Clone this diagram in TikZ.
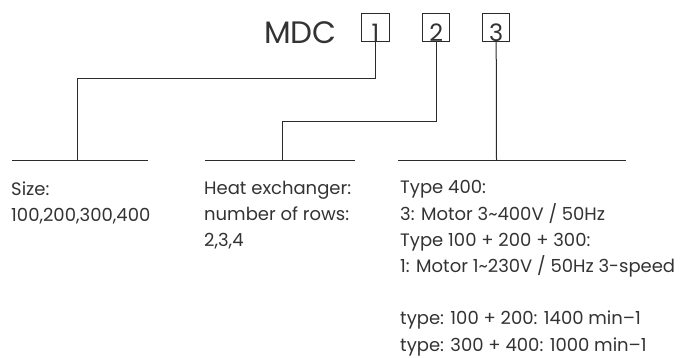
\documentclass[tikz,border=0pt]{standalone}
\usepackage{fontspec}
\setmainfont{Poppins}
\definecolor{txt}{HTML}{333333}
\definecolor{ln}{HTML}{2B2B2B}
\begin{document}
\begin{tikzpicture}[x=1pt,y=-1pt,
  digitbox/.style={draw=ln,line width=1pt,minimum width=27.5pt,minimum height=28.4pt,inner sep=0pt},
  digit/.style={font=\fontsize{24}{24}\selectfont,text=txt,anchor=base,inner sep=0pt},
  conn/.style={draw=ln,line width=1pt},
  label/.style={font=\fontsize{18}{26.3}\selectfont,text=txt,anchor=north west,inner sep=0pt,align=left}]
\useasboundingbox (0,0) rectangle (685,358);
% title
\node[font=\fontsize{31}{31}\selectfont,text=txt,anchor=base west,inner sep=0pt] (mdc) at (264,44) {MDC};
% boxes
\node[digitbox] (b1) at (375.5,27.5) {};
\node[digitbox] (b2) at (436.2,27.5) {};
\node[digitbox] (b3) at (496.2,27.5) {};
\node[digit] (d1) at (375.5,41.7) {1};
\node[digit] (d2) at (436.2,41.7) {2};
\node[digit] (d3) at (496.2,41.7) {3};
% bars
\coordinate (a1) at (12,161);  \coordinate (a2) at (148,161);
\coordinate (c1) at (205,161); \coordinate (c2) at (355,161);
\coordinate (e1) at (398,161); \coordinate (e2) at (626,161);
\draw[conn] (a1) -- (a2);
\draw[conn] (c1) -- (c2);
\draw[conn] (e1) -- (e2);
\coordinate (j1) at (77.5,161);
\coordinate (j2) at (282.5,161);
\coordinate (j3) at (496.5,161);
% connectors
\draw[conn] (b1.south) |- (77.5,78.3) -- (j1);
\draw[conn] (b2.south) |- (282.5,121.7) -- (j2);
\draw[conn] (b3.south) -- (j3);
% labels
\node[label] (l1) at (11,181.5) {Size:\\100,200,300,400};
\node[label] (l2) at (204,180.5) {Heat exchanger:\\number of rows:\\2,3,4};
\node[label] (l3) at (400,180.5) {Type 400:\\3: Motor 3\textasciitilde400V / 50Hz\\Type 100 + 200 + 300:\\1: Motor 1\textasciitilde230V / 50Hz 3-speed};
\node[label] (l4) at (400,311) {type: 100 + 200: 1400 min–1\\type: 300 + 400: 1000 min–1};
\end{tikzpicture}
\end{document}
